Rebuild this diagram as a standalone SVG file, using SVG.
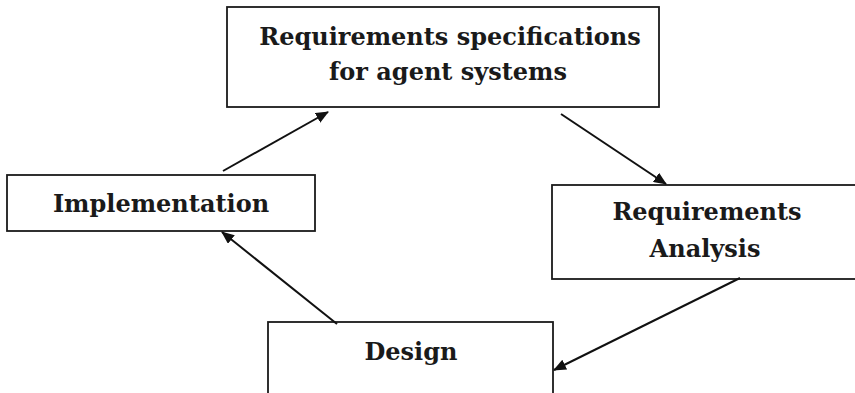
<svg xmlns="http://www.w3.org/2000/svg" width="855" height="393" viewBox="0 0 855 393">
  <style>
    .box { fill: #ffffff; stroke: #1a1a1a; stroke-width: 1.8; }
    .label { font-family: "DejaVu Serif", "Liberation Serif", serif; font-weight: bold; font-size: 24px; fill: #1a1a1a; text-anchor: middle; }
    .edge { stroke: #111111; stroke-width: 2; fill: none; marker-end: url(#head); }
  </style>
  <defs>
    <marker id="head" viewBox="0 0 13 11" refX="12" refY="5.5" markerWidth="13" markerHeight="11" markerUnits="userSpaceOnUse" orient="auto">
      <path d="M0,0 L13,5.5 L0,11 Z" fill="#111111"/>
    </marker>
  </defs>
  <rect width="855" height="393" fill="#ffffff"/>

  <g id="node-spec">
    <rect class="box" x="227" y="7" width="432" height="100"/>
    <text class="label" x="450" y="45">Requirements specifications</text>
    <text class="label" x="448" y="80">for agent systems</text>
  </g>

  <g id="node-implementation">
    <rect class="box" x="7" y="175" width="308" height="56"/>
    <text class="label" x="161" y="212">Implementation</text>
  </g>

  <g id="node-analysis">
    <rect class="box" x="552" y="185" width="310" height="94"/>
    <text class="label" x="707" y="220">Requirements</text>
    <text class="label" x="705" y="257">Analysis</text>
  </g>

  <g id="node-design">
    <rect class="box" x="268" y="322" width="285" height="90"/>
    <text class="label" x="411" y="360">Design</text>
  </g>

  <g id="connectors">
    <line class="edge" x1="223" y1="171" x2="328" y2="112"/>
    <line class="edge" x1="561" y1="114" x2="666" y2="184"/>
    <line class="edge" x1="740" y1="278" x2="554" y2="370"/>
    <line class="edge" x1="337" y1="324" x2="222" y2="232"/>
  </g>
</svg>
